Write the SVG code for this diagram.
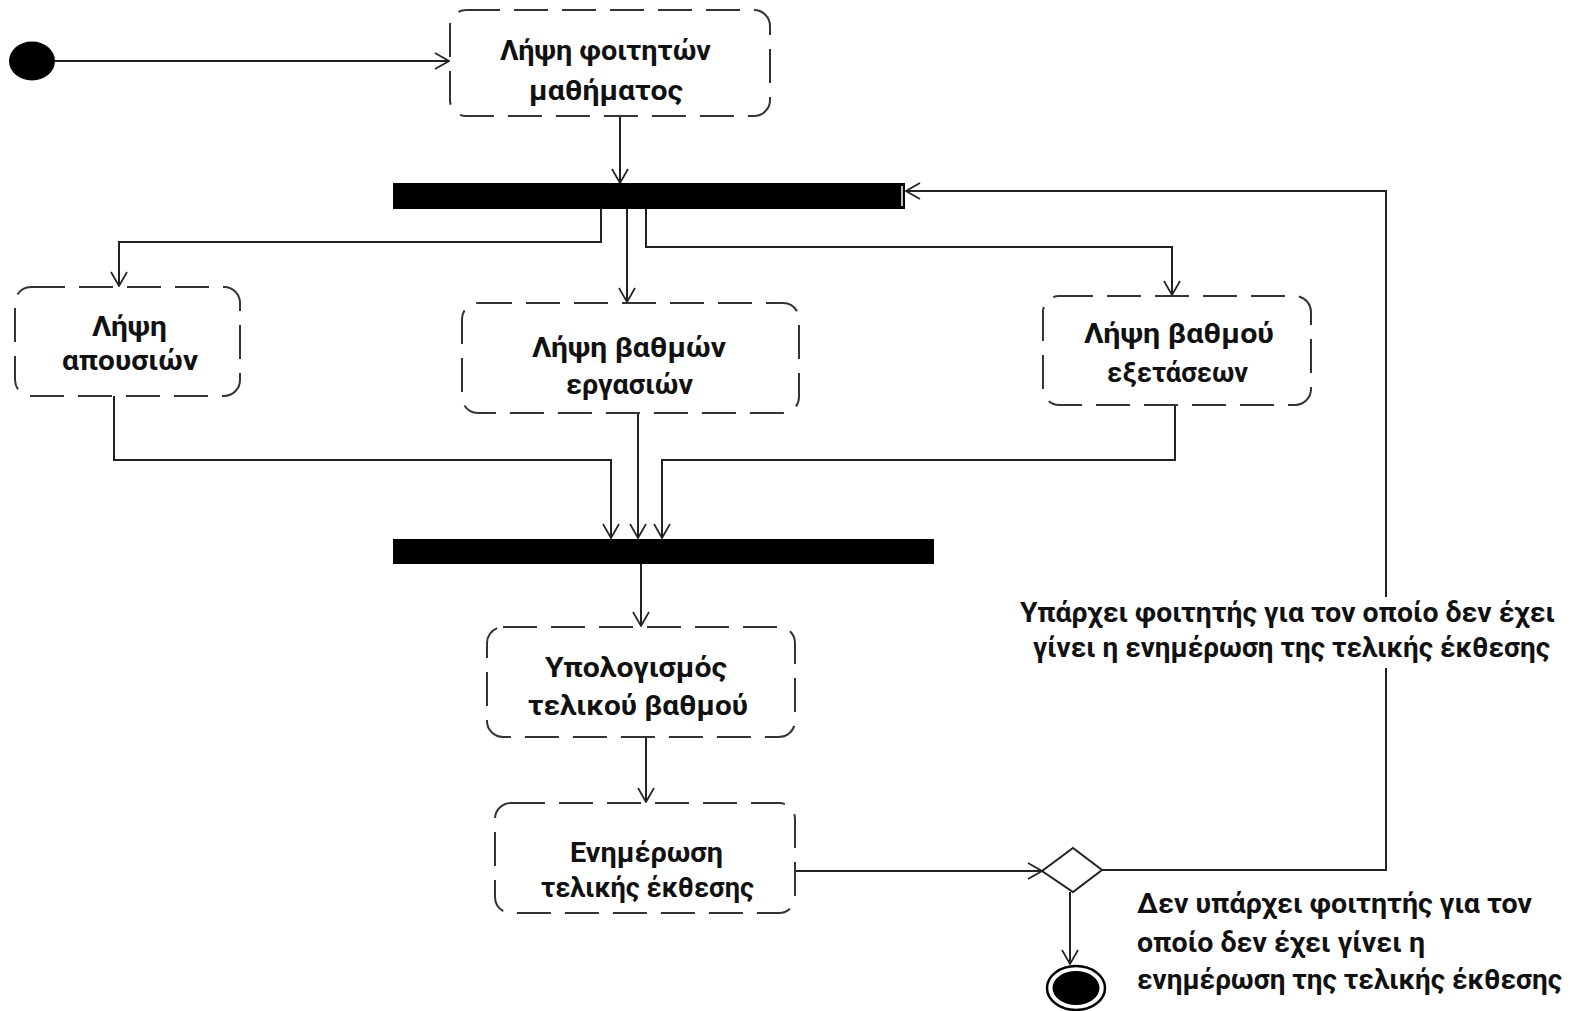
<svg xmlns="http://www.w3.org/2000/svg" width="1573" height="1011" viewBox="0 0 1573 1011">
<style>
.act{fill:#fff;stroke:#333;stroke-width:2;stroke-dasharray:34 14}
.bar{fill:#000}
.t{font-family:Roboto,"Noto Sans","DejaVu Sans",sans-serif;font-weight:700;font-size:28px;fill:#111}
.c{fill:none;stroke:#222;stroke-width:2}
</style>
<defs>
<marker id="arr" viewBox="0 0 16 18" refX="15" refY="9" markerWidth="16" markerHeight="18" markerUnits="userSpaceOnUse" orient="auto">
<path d="M1,1 L15,9 L1,17" fill="none" stroke="#222" stroke-width="1.7"/>
</marker>
</defs>
<rect width="1573" height="1011" fill="#fff"/>

<g id="connectors">
<path class="c" d="M55,61 H449" marker-end="url(#arr)"/>
<path class="c" d="M620,117 V183" marker-end="url(#arr)"/>
<path class="c" d="M601,209 V242 H119 V286" marker-end="url(#arr)"/>
<path class="c" d="M627,209 V302" marker-end="url(#arr)"/>
<path class="c" d="M646,209 V247 H1172 V295" marker-end="url(#arr)"/>
<path class="c" d="M114,396 V460 H611 V538" marker-end="url(#arr)"/>
<path class="c" d="M638,413 V538" marker-end="url(#arr)"/>
<path class="c" d="M1175,405 V460 H662 V538" marker-end="url(#arr)"/>
<path class="c" d="M641,564 V626" marker-end="url(#arr)"/>
<path class="c" d="M646,737 V802" marker-end="url(#arr)"/>
<path class="c" d="M795,871 H1042" marker-end="url(#arr)"/>
<path class="c" d="M1102,870 H1386 V668 M1386,597 V191 H906" marker-end="url(#arr)"/>
<path class="c" d="M1070,892 V964" marker-end="url(#arr)"/>
</g>

<g id="start"><ellipse cx="32" cy="61" rx="23" ry="19.5" fill="#000"/></g>

<g id="n1">
<rect class="act" x="450" y="10" width="320" height="106" rx="16"/>
<text class="t" x="500" y="60" textLength="211" lengthAdjust="spacingAndGlyphs">Λήψη φοιτητών</text>
<text class="t" x="529" y="100" textLength="154" lengthAdjust="spacingAndGlyphs">μαθήματος</text>
</g>

<g id="fork1">
<rect class="bar" x="393" y="183" width="512" height="26"/>
<line x1="902" y1="186" x2="902" y2="206" stroke="#fff" stroke-width="1.5"/>
</g>

<g id="n2">
<rect class="act" x="15" y="287" width="225" height="109" rx="16"/>
<text class="t" x="92" y="336" textLength="75" lengthAdjust="spacingAndGlyphs">Λήψη</text>
<text class="t" x="62" y="370" textLength="136" lengthAdjust="spacingAndGlyphs">απουσιών</text>
</g>

<g id="n3">
<rect class="act" x="462" y="303" width="337" height="110" rx="16"/>
<text class="t" x="532" y="357" textLength="194" lengthAdjust="spacingAndGlyphs">Λήψη βαθμών</text>
<text class="t" x="566" y="394" textLength="127" lengthAdjust="spacingAndGlyphs">εργασιών</text>
</g>

<g id="n4">
<rect class="act" x="1043" y="296" width="268" height="109" rx="16"/>
<text class="t" x="1084" y="343" textLength="190" lengthAdjust="spacingAndGlyphs">Λήψη βαθμού</text>
<text class="t" x="1107" y="382" textLength="141" lengthAdjust="spacingAndGlyphs">εξετάσεων</text>
</g>

<g id="join1">
<rect class="bar" x="393" y="539" width="541" height="25"/>
</g>

<g id="n5">
<rect class="act" x="487" y="627" width="308" height="110" rx="16"/>
<text class="t" x="545" y="677" textLength="182" lengthAdjust="spacingAndGlyphs">Υπολογισμός</text>
<text class="t" x="528" y="715" textLength="220" lengthAdjust="spacingAndGlyphs">τελικού βαθμού</text>
</g>

<g id="n6">
<rect class="act" x="495" y="803" width="300" height="110" rx="16"/>
<text class="t" x="570" y="862" textLength="153" lengthAdjust="spacingAndGlyphs">Ενημέρωση</text>
<text class="t" x="541" y="897" textLength="213" lengthAdjust="spacingAndGlyphs">τελικής έκθεσης</text>
</g>

<g id="decision">
<polygon points="1042,871 1073,848 1102,870 1073,892" fill="#fff" stroke="#222" stroke-width="2"/>
</g>

<g id="end">
<ellipse cx="1076" cy="988" rx="29" ry="22" fill="#fff" stroke="#000" stroke-width="2.5"/>
<ellipse cx="1076" cy="988" rx="23.5" ry="17" fill="#000"/>
</g>

<g id="label-yes">
<text class="t" x="1020" y="622" textLength="535" lengthAdjust="spacingAndGlyphs">Υπάρχει φοιτητής για τον οποίο δεν έχει</text>
<text class="t" x="1033" y="657" textLength="517" lengthAdjust="spacingAndGlyphs">γίνει η ενημέρωση της τελικής έκθεσης</text>
</g>

<g id="label-no">
<text class="t" x="1137" y="913" textLength="395" lengthAdjust="spacingAndGlyphs">Δεν υπάρχει φοιτητής για τον</text>
<text class="t" x="1137" y="952" textLength="288" lengthAdjust="spacingAndGlyphs">οποίο δεν έχει γίνει η</text>
<text class="t" x="1137" y="989" textLength="425" lengthAdjust="spacingAndGlyphs">ενημέρωση της τελικής έκθεσης</text>
</g>
</svg>
